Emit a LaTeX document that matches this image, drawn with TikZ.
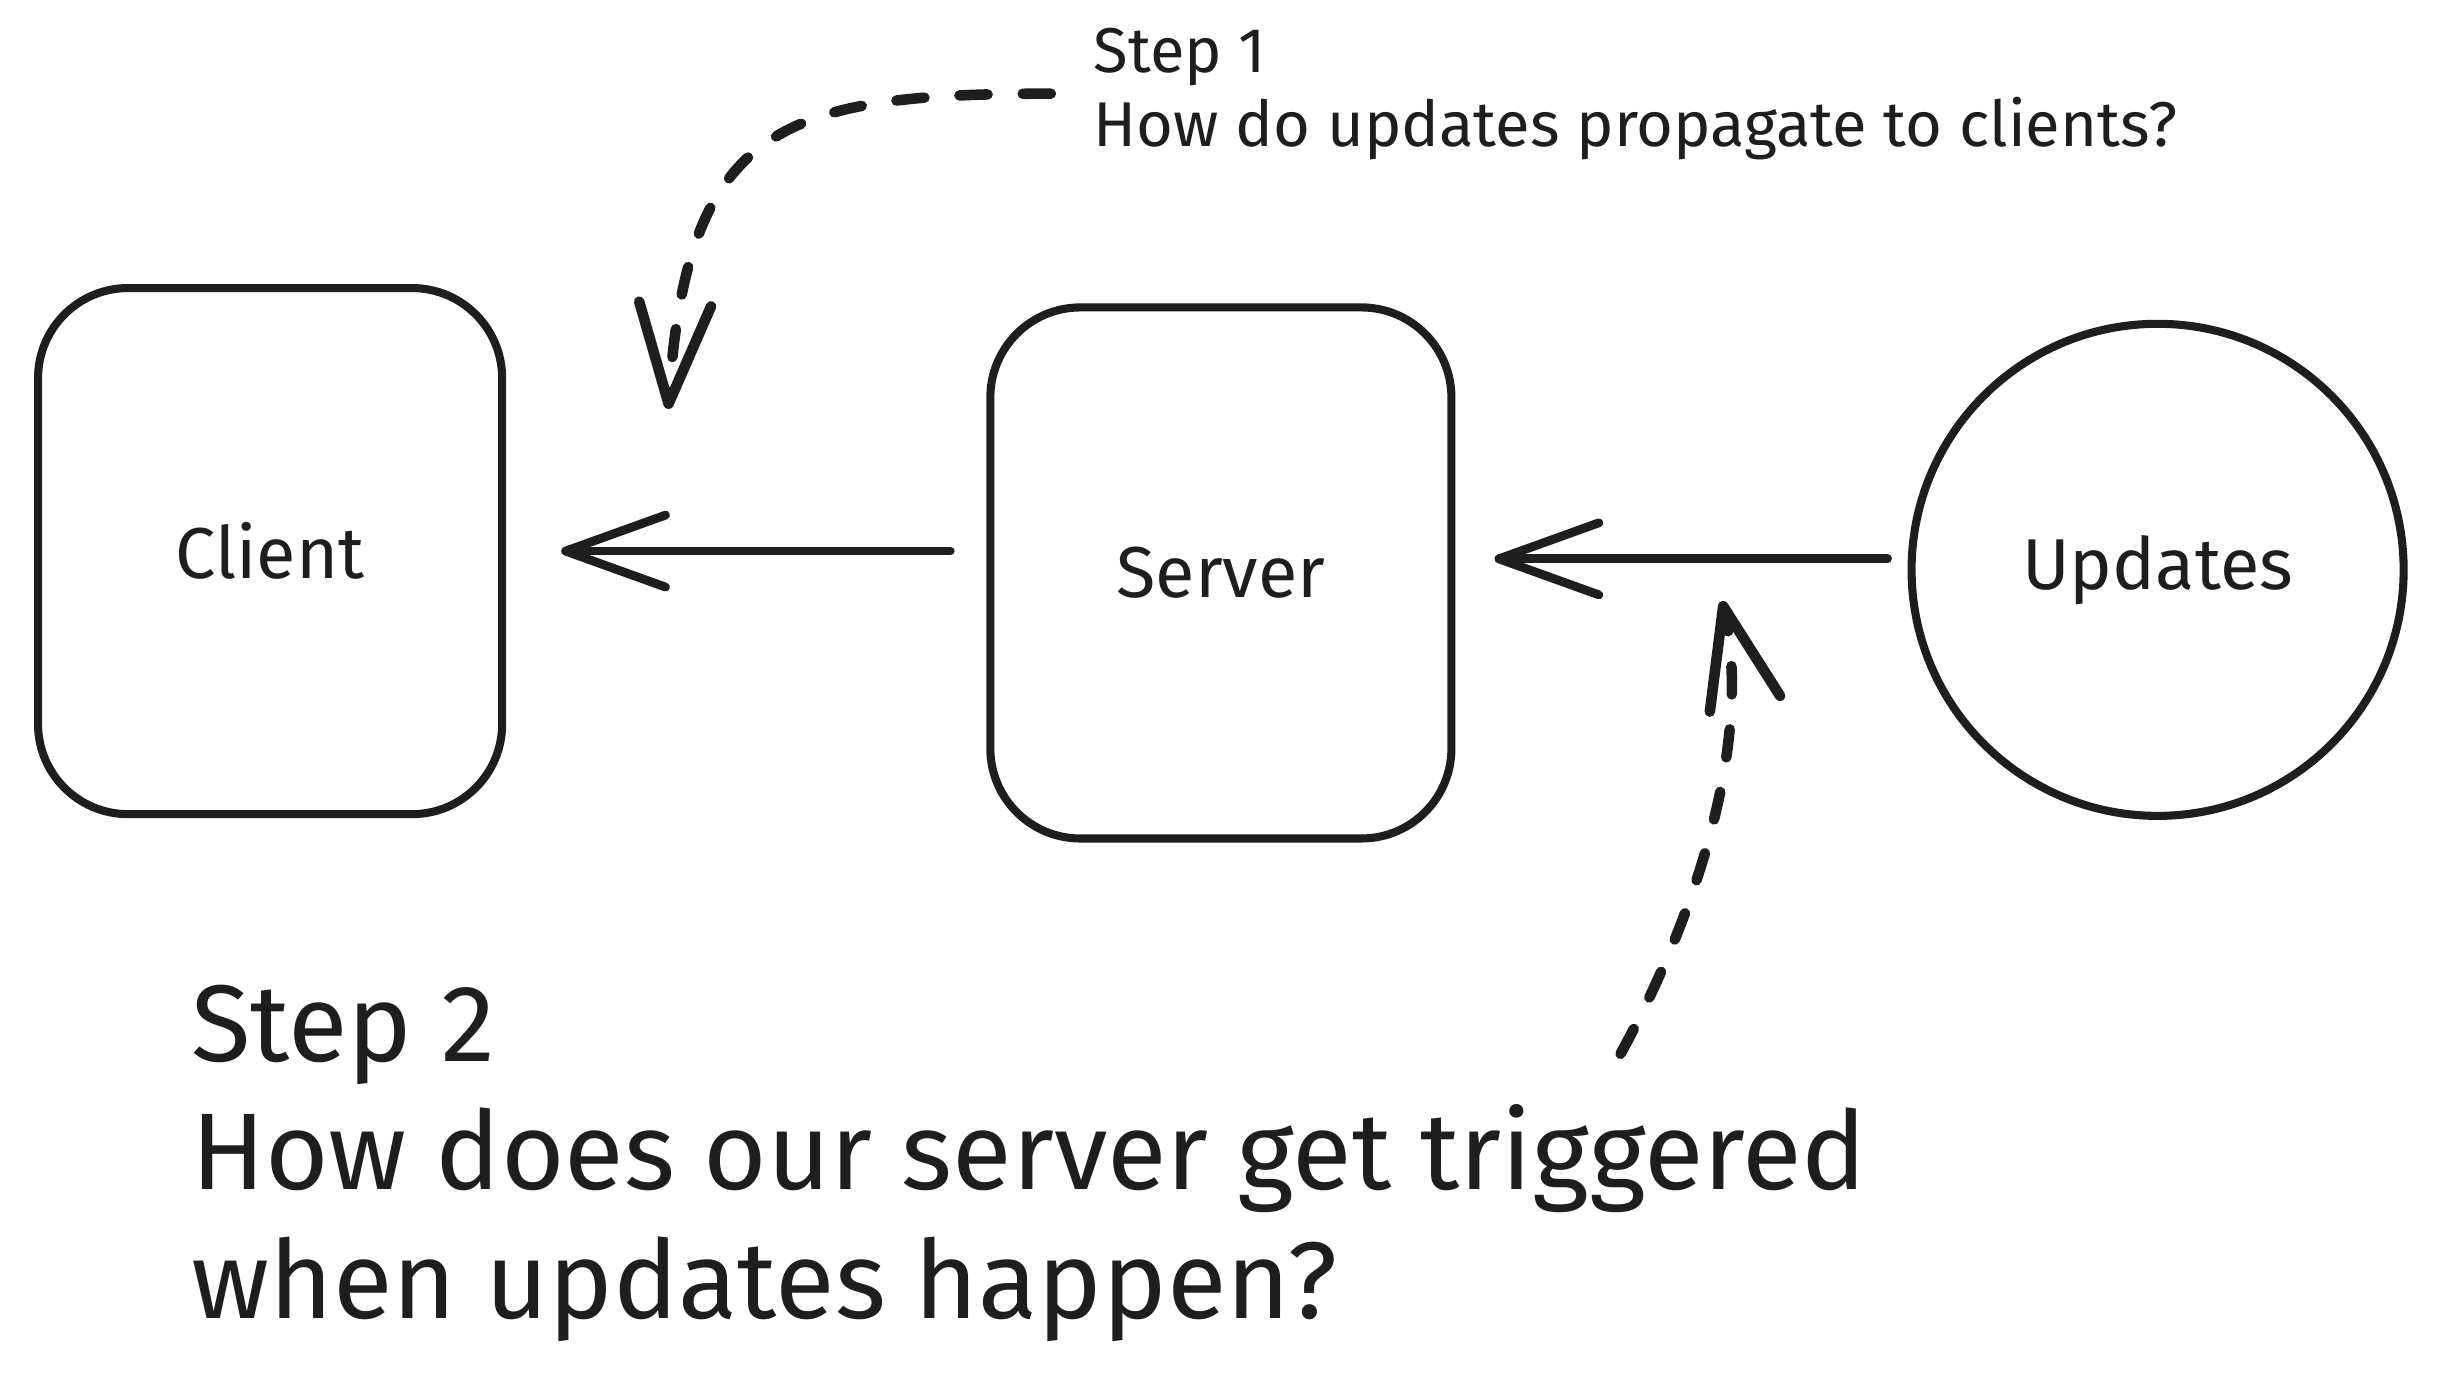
\documentclass[tikz,border=0pt]{standalone}
\usepackage{fontspec}
\setmainfont{Fira Sans}
\usetikzlibrary{arrows.meta}
\definecolor{ink}{HTML}{1E1E1E}
\begin{document}
\begin{tikzpicture}[x=0.015612cm,y=-0.015612cm,
  every node/.style={text=ink},
  box/.style={draw=ink, line width=2.3pt, rounded corners=0.9cm,
    font=\fontsize{20.5}{24}\selectfont},
  ring/.style={draw=ink, line width=2.3pt, circle, minimum size=4.92cm,
    font=\fontsize{20.5}{24}\selectfont},
  conn/.style={draw=ink, line width=2.5pt, line cap=round,
    -{Straight Barb[length=1.0cm,width=0.72cm,round]}},
  dashconn/.style={draw=ink, line width=3pt, line cap=round,
    dash pattern=on 8pt off 10pt,
    -{Straight Barb[length=1.0cm,width=0.72cm,round]}},
  note/.style={anchor=west, align=left, inner sep=0pt}
]
\useasboundingbox (0,0) rectangle (1568,889);

\node[box, minimum width=4.64cm, minimum height=5.26cm] (cli) at (173,353) {Client};
\node[box, minimum width=4.61cm, minimum height=5.31cm] (srv) at (782,367) {Server};
\node[ring] (upd) at (1382,365) {Updates};

\node[note, font=\fontsize{18}{21}\selectfont] (s1) at (700,60)
  {Step 1\\How do updates propagate to clients?};
\node[note, font=\fontsize{31}{36.5}\selectfont] (s2) at (122,745)
  {Step 2\\How does our server get triggered\\when updates happen?};

\coordinate (t1) at (428,262);
\coordinate (t2) at (1103,385);
\coordinate (b2) at (1038,675);
\coordinate (u1) at ([yshift=0.11cm]upd.west);

\draw[conn, shorten <=0.36cm, shorten >=0.55cm] (srv.west |- cli.east) -- (cli.east);
\draw[conn, shorten <=0.2cm, shorten >=0.39cm] (u1) -- (u1 -| srv.east);

\draw[dashconn] ([xshift=-0.42cm]s1.west) .. controls (500,60) and (440,80) .. (t1);
\draw[dashconn] (b2) .. controls (1090,580) and (1122,470) .. (t2);
\end{tikzpicture}
\end{document}
